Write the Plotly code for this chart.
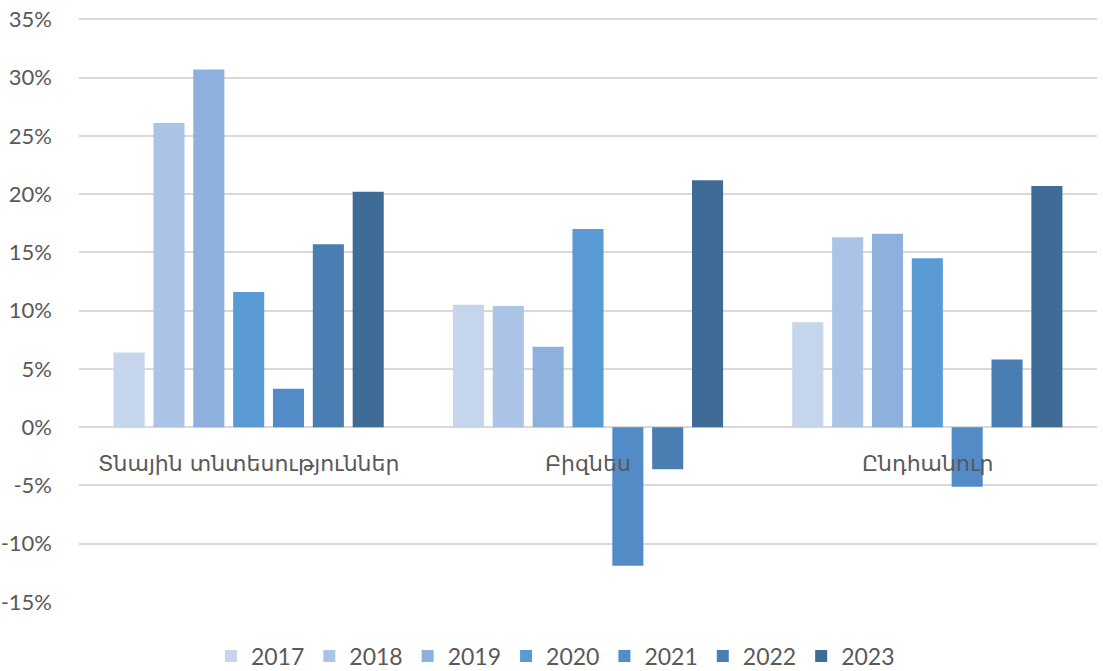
import plotly.graph_objects as go

categories = ["Տնային տնտեսություններ", "Բիզնես", "Ընդհանուր"]
years = ["2017", "2018", "2019", "2020", "2021", "2022", "2023"]
values_2017 = [6.4, 10.5, 9.0]
values_2018 = [26.1, 10.4, 16.3]
values_2019 = [30.7, 6.9, 16.6]
values_2020 = [11.6, 17.0, 14.5]
values_2021 = [3.3, -11.9, -5.1]
values_2022 = [15.7, -3.6, 5.8]
values_2023 = [20.2, 21.2, 20.7]
series = [values_2017, values_2018, values_2019, values_2020, values_2021, values_2022, values_2023]
colors = ["#C5D5EB", "#ABC4E6", "#8DB0DD", "#5B9BD5", "#528BC6", "#4A7EB2", "#3F6B97"]
y_ticks = [-15, -10, -5, 0, 5, 10, 15, 20, 25, 30, 35]
y_tick_labels = [f"{v}%" for v in y_ticks]

fig = go.Figure()
for yr, vals, col in zip(years, series, colors):
    fig.add_trace(go.Bar(name=yr, x=categories, y=vals, marker_color=col,
                         marker_line_width=0))

for cat in categories:
    fig.add_annotation(x=cat, y=0, xref="x", yref="y", text=cat, showarrow=False,
                       yanchor="middle", yshift=-36,
                       font=dict(family="DejaVu Sans", size=22, color="#595959"))

fig.update_layout(
    width=1103, height=671,
    margin=dict(l=79, r=6, t=17, b=69, autoexpand=False),
    paper_bgcolor="white", plot_bgcolor="white",
    barmode="group", bargap=0.178, bargroupgap=0.22,
    font=dict(family="Lato, Carlito, sans-serif", color="#595959", size=23),
    legend=dict(orientation="h", x=0.468, xanchor="center", y=-0.0926, yanchor="middle",
                font=dict(size=23, color="#595959"), itemwidth=30, tracegroupgap=0),
    showlegend=True,
)
fig.update_xaxes(showticklabels=False, showgrid=False, zeroline=False, showline=False)
fig.update_yaxes(range=[-15, 35.2], tickvals=y_ticks, ticktext=y_tick_labels,
                 showgrid=True, gridcolor="#D9D9D9", gridwidth=1.5,
                 zeroline=True, zerolinecolor="#D9D9D9", zerolinewidth=1.5,
                 showline=False, ticks="", ticklabelstandoff=26,
                 tickfont=dict(size=22, color="#595959"))

fig.write_html("out.html", config={"displayModeBar": False},
               post_script="document.body.style.margin='0px';document.body.style.overflow='hidden';")
